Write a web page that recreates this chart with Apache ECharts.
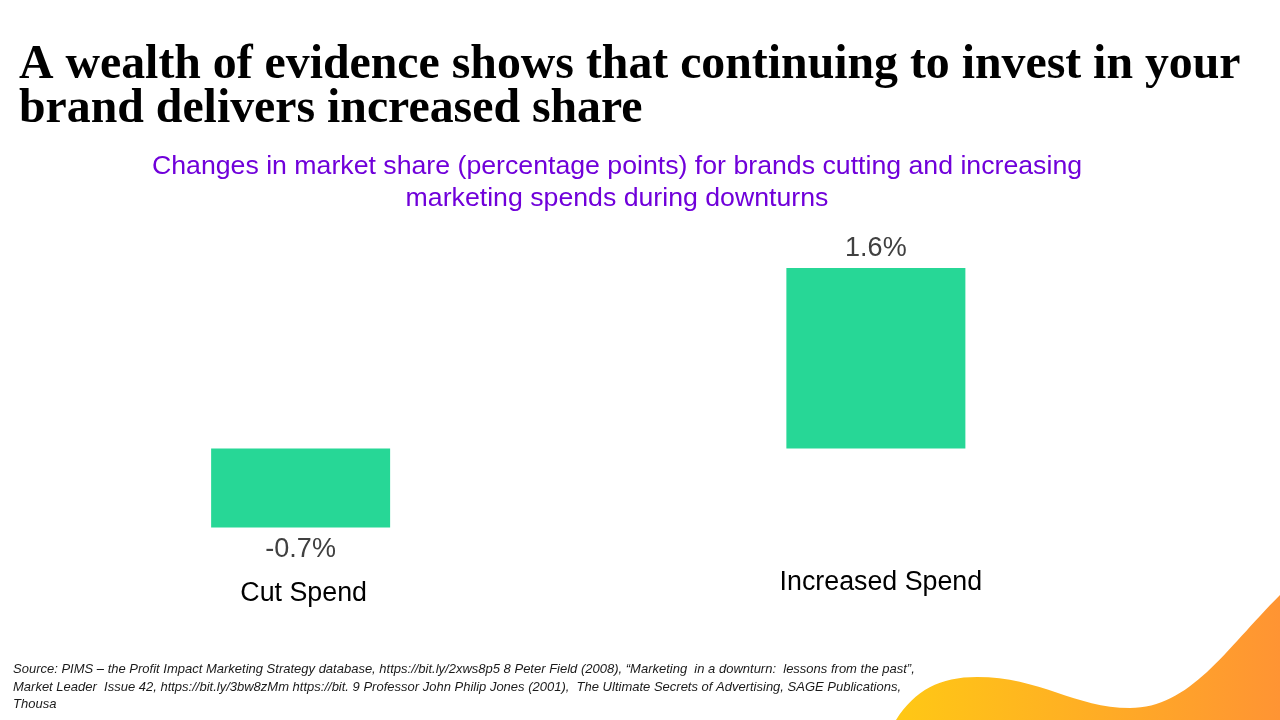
<!DOCTYPE html>
<html>
<head>
<meta charset="utf-8">
<script src="https://cdn.jsdelivr.net/npm/echarts@6/dist/echarts.min.js"></script>
<style>
html,body{margin:0;padding:0;background:#fff;}
#c{width:1280px;height:720px;}
</style>
</head>
<body>
<div id="c"></div>
<script>
const titleText = 'A wealth of evidence shows that continuing to invest in your\nbrand delivers increased share';
const subtitleText = 'Changes in market share (percentage points) for brands cutting and increasing\nmarketing spends during downturns';
const sourceText = 'Source: PIMS \u2013 the Profit Impact Marketing Strategy database, https://bit.ly/2xws8p5 8 Peter Field (2008), \u201cMarketing  in a downturn:  lessons from the past\u201d,\nMarket Leader  Issue 42, https://bit.ly/3bw8zMm https://bit. 9 Professor John Philip Jones (2001),  The Ultimate Secrets of Advertising, SAGE Publications,\nThousa';
const categories = ['Cut Spend', 'Increased Spend'];
const shareChange = [-0.7, 1.6];

const wavePath = 'M896,720 C915,690 940,677 977,677 C1040,677 1075,708 1130,708 C1190,708 1225,650 1280,595 L1280,720 Z';
let graphics = [];
try {
  const WaveShape = echarts.graphic.extendPath(wavePath, {});
  echarts.graphic.registerShape('wave', WaveShape);
  graphics = [{
    type: 'wave', silent: true, z: -1,
    style: {fill: {type: 'linear', x: 0, y: 0, x2: 1, y2: 0, colorStops: [{offset: 0, color: '#FFC815'}, {offset: 1, color: '#FF9433'}]}}
  }];
} catch (err) { graphics = []; }

const labelFont = "'Liberation Sans', Arial, sans-serif";
const chart = echarts.init(document.getElementById('c'));
chart.setOption({
  backgroundColor: '#ffffff',
  animation: false,
  title: [
    {
      text: titleText, left: 14, top: 39,
      textStyle: {fontFamily: "'Liberation Serif', 'Times New Roman', serif", fontWeight: 'bold', fontSize: 47.8, lineHeight: 44, color: '#000'}
    },
    {
      text: subtitleText, left: 612, top: 146, textAlign: 'center',
      textStyle: {fontFamily: labelFont, fontWeight: 'normal', fontSize: 26.7, lineHeight: 32, color: '#7000DA', align: 'center'}
    },
    {
      text: sourceText, left: 8, top: 656,
      textStyle: {fontFamily: labelFont, fontStyle: 'italic', fontWeight: 'normal', fontSize: 13, lineHeight: 17.5, color: '#1a1a1a'}
    }
  ],
  grid: {left: 13, right: 116.5, top: 268, bottom: 192.5, containLabel: false},
  xAxis: {
    type: 'category', data: categories,
    axisLine: {show: false}, axisTick: {show: false}, splitLine: {show: false},
    axisLabel: {
      margin: 42,
      formatter: function (v, i) { return i === 0 ? '{a|' + v + '}' : '{b|' + v + '}'; },
      rich: {
        a: {fontFamily: labelFont, fontSize: 26.8, color: '#000', padding: [11, 0, 0, 6]},
        b: {fontFamily: labelFont, fontSize: 26.8, color: '#000', padding: [0, 0, 0, 10]}
      }
    }
  },
  yAxis: {
    type: 'value', min: -0.7, max: 1.6, show: false, splitLine: {show: false}
  },
  series: [{
    type: 'bar', barWidth: 179,
    itemStyle: {color: '#27D796'},
    data: shareChange.map(v => ({value: v, label: v < 0 ? {position: 'bottom', distance: 9} : {position: 'top', distance: 6}})),
    label: {
      show: true,
      formatter: p => p.value.toFixed(1) + '%',
      fontFamily: labelFont, fontSize: 27, color: '#404040'
    }
  }],
  graphic: graphics
});
</script>
</body>
</html>
